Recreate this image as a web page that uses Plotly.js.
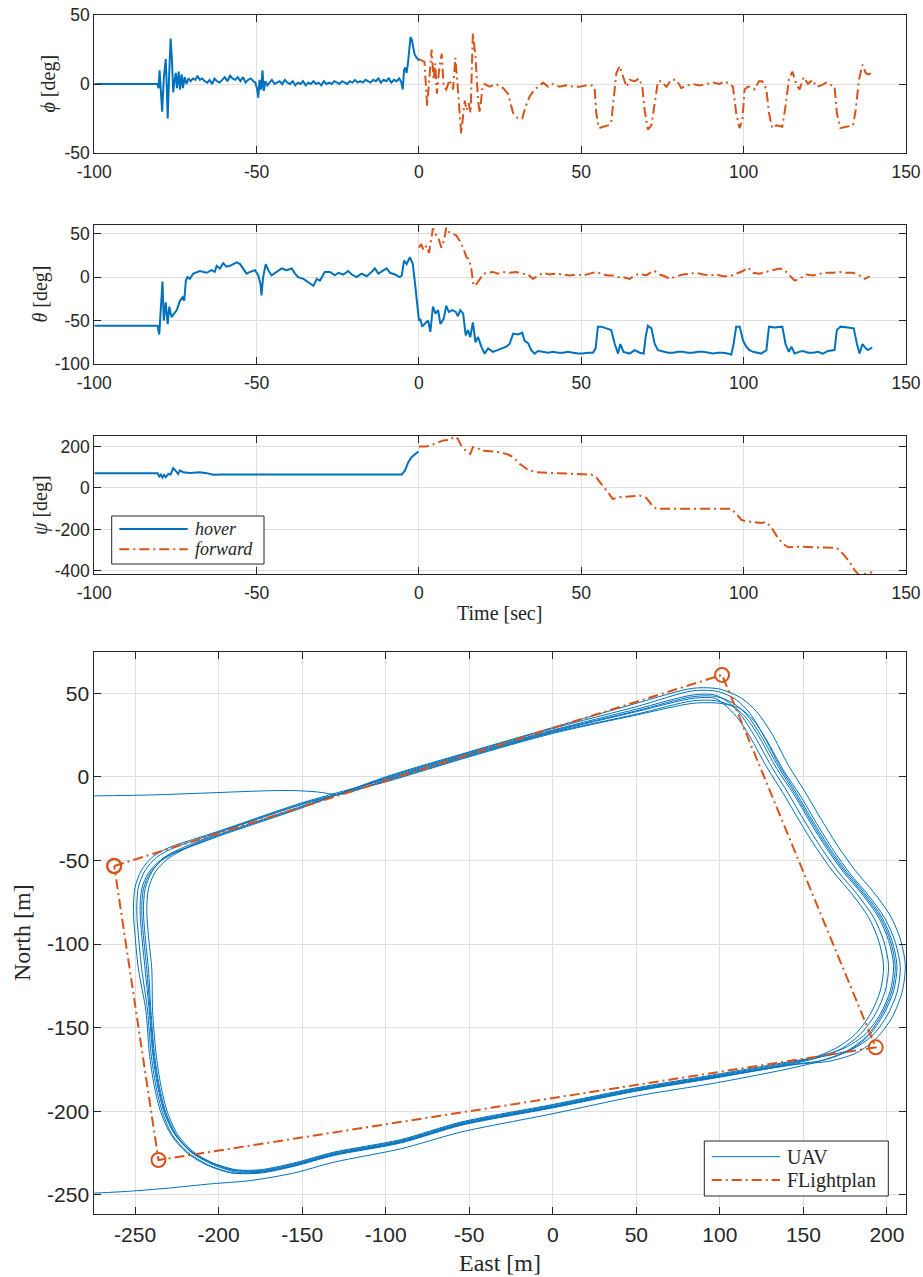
<!DOCTYPE html>
<html><head><meta charset="utf-8">
<script src="https://cdn.plot.ly/plotly-3.0.1.min.js"></script>
<style>html,body{margin:0;padding:0;background:#fff}#chart{width:923px;height:1277px}</style>
</head><body><div id="chart"></div>
<script>
// ---------- DATA (time [s], value [deg]) ----------
const phiHover = [[-100,0],[-80.6,0],[-80.2,-3],[-79.9,10],[-79.5,-5],[-79.1,-20],[-78.6,4],[-78.0,18],[-77.7,0],[-77.4,-25],[-77.0,3],[-76.5,33],[-76.1,18],[-75.7,-6],[-75.3,2],[-74.9,8],[-74.5,-3],[-74.0,9],[-73.6,-4],[-73.1,7],[-72.7,-3],[-72.2,5],[-71.6,0],[-71.0,4],[-70.3,2],[-69.6,4],[-68.9,3],[-68.2,6],[-67.5,3],[-66.8,4],[-66.0,2],[-65.2,1],[-64.5,3],[-63.7,0],[-63.0,4],[-62.2,2],[-61.4,1],[-60.6,3],[-59.8,5],[-59.0,2],[-58.2,6],[-57.4,4],[-56.6,3],[-55.8,5],[-55.0,2],[-54.2,5],[-53.4,1],[-52.6,3],[-51.8,4],[-51.0,2],[-50.4,1],[-49.9,-3],[-49.5,-10],[-49.1,3],[-48.6,-4],[-48.2,10],[-47.8,-5],[-47.3,2],[-46.7,-1],[-46.0,1],[-45.3,3],[-44.5,0],[-43.7,1],[-42.9,2],[-42.1,0],[-41.3,3],[-40.5,1],[-39.7,0],[-38.9,2],[-38.1,-1],[-37.3,1],[-36.5,0],[-35.7,2],[-34.9,-1],[-34.1,1],[-33.3,0],[-32.5,2],[-31.7,0],[-30.9,1],[-30.1,-1],[-29.3,2],[-28.5,0],[-27.7,1],[-26.9,0],[-26.1,2],[-25.3,1],[-24.5,0],[-23.7,2],[-22.9,1],[-22.1,0],[-21.3,2],[-20.5,1],[-19.7,3],[-18.9,1],[-18.1,2],[-17.3,1],[-16.5,3],[-15.7,2],[-14.9,1],[-14.1,3],[-13.3,2],[-12.5,4],[-11.7,1],[-10.9,3],[-10.1,2],[-9.3,4],[-8.5,1],[-7.7,3],[-6.9,2],[-6.1,4],[-5.4,1],[-5.0,-4],[-4.6,10],[-4.2,12],[-3.8,8],[-3.4,15],[-3.0,28],[-2.6,34],[-2.2,32],[-1.8,26],[-1.4,22],[-1.0,20],[-0.6,19],[-0.2,18],[0,17]];
const phiForward = [[0,18],[1.7,16],[2.5,-16],[2.9,-4],[3.9,25],[4.5,3],[5.0,15],[5.5,-7],[6.2,10],[7.0,22],[7.6,-2],[8.4,-4],[9.4,3],[10.5,-4],[11.2,19],[12.0,-4],[13.0,-36],[14.1,-12],[14.6,-19],[15.3,-14],[15.9,-21],[16.6,37],[17.4,20],[18.2,-12],[18.7,-21],[19.5,-4],[20.2,0],[21.8,-2],[23.8,0],[25.9,-3],[27.4,-7],[29.0,-21],[30.5,-25],[31.8,-25],[32.9,-16],[34.1,-9],[35.6,-4],[36.7,-2],[38.2,1],[39.8,-2],[41.3,0],[43.3,-2],[45.4,-1],[47.4,-2],[49.5,-2],[51.5,-1],[53.4,-1],[54.1,-3],[54.6,-21],[55.4,-32],[56.7,-31],[58.2,-30],[59.2,-28],[59.9,-12],[60.8,8],[61.8,13],[62.8,5],[63.9,-2],[64.9,3],[66.4,2],[67.8,4],[68.8,-2],[69.5,-19],[70.5,-33],[71.6,-30],[72.6,-14],[73.6,2],[74.6,2],[76.2,-2],[77.7,3],[79.3,3],[80.8,-3],[82.3,-1],[84.4,0],[86.4,-1],[88.5,0],[90.6,1],[92.6,0],[94.1,2],[95.7,0],[96.7,-2],[97.7,-21],[98.7,-32],[99.6,-26],[100.3,-4],[101.3,-2],[102.4,-2],[103.4,-4],[104.7,2],[105.7,2],[107.0,-4],[107.8,-21],[108.8,-32],[110.1,-30],[111.9,-31],[112.9,-16],[113.9,3],[115.0,9],[116.2,0],[117.2,-4],[118.5,5],[119.8,0],[121.2,3],[122.4,-2],[123.9,-1],[125.5,1],[127.0,-1],[128.0,-2],[128.7,-21],[129.8,-32],[131.6,-31],[133.7,-30],[134.5,-19],[135.5,3],[136.6,14],[137.6,8],[138.3,7],[139.6,8]];
const thetaHover = [[-100,-56],[-80.5,-56],[-80.0,-66],[-79.5,-40],[-79.0,-5],[-78.6,-50],[-78.0,-29],[-77.4,-54],[-76.9,-34],[-76.2,-46],[-75.5,-42],[-74.6,-38],[-73.6,-27],[-72.8,-23],[-72.3,-27],[-71.8,-4],[-71.3,0],[-70.6,-2],[-69.5,4],[-67.5,7],[-65.4,5],[-63.9,8],[-62.9,6],[-62.3,13],[-61.3,10],[-60.3,16],[-59.3,12],[-58.2,13],[-57.2,15],[-56.2,17],[-55.1,15],[-54.1,10],[-53.1,4],[-52.0,6],[-50.5,8],[-49.5,2],[-48.8,-8],[-48.5,-21],[-48.0,0],[-47.2,15],[-46.4,8],[-45.4,2],[-43.8,6],[-42.3,10],[-40.8,8],[-39.2,10],[-38.2,4],[-37.2,0],[-35.6,-2],[-34.1,-6],[-32.5,-10],[-31.5,-2],[-30.5,-4],[-29.0,6],[-27.4,6],[-25.9,2],[-24.8,5],[-23.3,3],[-21.8,7],[-20.7,3],[-19.2,0],[-17.7,4],[-16.1,1],[-14.6,6],[-13.6,10],[-12.5,4],[-11.0,8],[-10.0,10],[-8.9,5],[-7.4,3],[-5.9,0],[-5.3,2],[-4.6,19],[-3.8,15],[-2.8,23],[-1.9,15],[-1.2,-8],[-0.5,-34],[0,-50],[0.4,-48],[1.0,-57],[1.7,-54],[2.8,-50],[3.5,-63],[4.3,-34],[5.1,-42],[5.9,-38],[6.6,-54],[7.6,-48],[8.4,-33],[9.2,-40],[10.3,-38],[11.3,-40],[12.0,-45],[12.7,-38],[13.6,-42],[14.4,-67],[15.1,-61],[15.8,-69],[16.6,-52],[17.4,-75],[18.2,-69],[19.2,-80],[20.2,-88],[21.3,-82],[22.8,-86],[24.3,-84],[25.4,-82],[26.9,-80],[27.9,-77],[29.0,-65],[30.5,-66],[31.8,-64],[32.5,-73],[33.6,-76],[34.6,-84],[35.6,-88],[36.7,-85],[38.2,-86],[39.8,-87],[41.3,-86],[42.8,-87],[44.4,-87],[45.9,-86],[47.4,-87],[49.0,-88],[50.5,-88],[52.0,-87],[53.6,-87],[54.4,-82],[55.1,-57],[56.2,-57],[57.7,-59],[59.2,-61],[60.3,-77],[61.3,-88],[62.0,-77],[63.0,-86],[64.9,-88],[66.4,-84],[68.0,-87],[69.2,-88],[69.8,-69],[70.5,-56],[71.6,-59],[72.6,-77],[73.6,-84],[75.2,-86],[76.7,-87],[78.2,-87],[79.8,-86],[81.3,-86],[82.8,-87],[84.4,-87],[85.9,-86],[87.5,-86],[89.0,-87],[90.6,-88],[92.1,-87],[93.6,-87],[95.0,-88],[96.2,-89],[96.9,-77],[97.7,-57],[98.8,-57],[99.8,-73],[100.8,-80],[101.8,-84],[102.9,-86],[104.2,-87],[105.4,-88],[107.0,-84],[107.8,-57],[109.5,-58],[111.9,-57],[112.9,-77],[113.9,-86],[114.7,-80],[115.7,-88],[117.0,-86],[118.3,-85],[119.8,-87],[121.4,-87],[122.9,-86],[124.4,-88],[126.0,-85],[128.0,-84],[128.7,-61],[129.8,-57],[132.1,-58],[133.9,-59],[134.9,-77],[135.7,-88],[136.6,-77],[137.6,-82],[138.3,-84],[139.6,-81]];
const thetaForward = [[0,34],[0.7,38],[1.4,31],[2.3,36],[3.1,28],[3.8,44],[4.3,56],[4.9,50],[5.9,46],[6.9,34],[7.7,42],[8.4,57],[9.2,52],[10.3,50],[11.5,48],[12.5,42],[13.6,34],[14.6,23],[15.4,21],[16.1,10],[16.8,-10],[17.7,-8],[18.7,-2],[19.9,4],[21.3,5],[22.8,6],[24.3,4],[25.9,6],[27.9,5],[30.0,6],[32.0,4],[33.6,3],[35.1,-2],[36.7,2],[38.2,5],[40.2,3],[42.3,4],[44.4,3],[46.4,2],[48.5,3],[50.5,2],[52.6,4],[54.6,6],[56.7,3],[58.2,2],[59.8,2],[61.3,0],[62.8,0],[64.9,-2],[66.4,2],[68.0,4],[70.0,2],[71.6,6],[72.6,7],[74.1,3],[75.7,1],[77.2,-2],[79.3,1],[81.3,3],[83.4,4],[85.4,5],[87.5,3],[89.5,2],[91.6,3],[93.6,1],[95.7,1],[97.7,4],[99.8,7],[101.3,11],[102.9,5],[104.9,4],[107.0,6],[109.0,8],[111.1,10],[112.6,8],[114.2,2],[115.7,-4],[117.2,-2],[119.3,3],[121.4,2],[123.4,4],[125.5,5],[127.5,5],[129.6,6],[131.6,5],[133.7,5],[135.7,2],[137.3,-2],[138.8,1]];
const psiHover = [[-100,71],[-80.5,71],[-80.0,55],[-79.5,64],[-79.0,50],[-78.5,62],[-78.0,52],[-77.2,67],[-76.5,64],[-75.7,95],[-74.8,80],[-74.2,67],[-73.6,84],[-72.6,75],[-70.5,72],[-67.5,75],[-65.4,71],[-63.3,63],[-60,64],[-57.2,64],[-52,63],[-46.9,64],[-42,63],[-36.7,64],[-31,63],[-26.4,64],[-21,63],[-16.1,64],[-10,63],[-5.3,64],[-4.3,84],[-3.3,124],[-2.3,148],[-1.2,164],[-0.2,175]];
const psiForward = [[0,199],[2.3,199],[4.3,209],[6.4,220],[7.4,228],[9.4,231],[11.0,247],[12.0,236],[13.0,204],[14.6,177],[15.8,164],[16.6,196],[17.7,196],[19.2,180],[21.8,177],[24.8,172],[27.4,161],[29.0,148],[31.0,116],[33.6,87],[36.1,75],[40.2,72],[45.4,67],[49.5,64],[53.1,64],[54.6,51],[56.2,19],[57.7,-13],[59.7,-53],[61.8,-45],[64.9,-42],[68.0,-37],[70.0,-48],[71.6,-80],[73.1,-101],[76.2,-101],[81.3,-98],[86.4,-101],[91.6,-101],[96.2,-101],[97.7,-125],[99.3,-154],[100.8,-161],[103.4,-165],[105.4,-169],[107.0,-165],[108.5,-190],[110.1,-230],[112.1,-270],[113.7,-286],[117.2,-283],[121.4,-286],[125.5,-286],[128.6,-289],[130.6,-318],[132.7,-358],[134.2,-398],[135.5,-419],[137.3,-414],[139.6,-406]];

// ---------- DATA (East [m], North [m]) ----------
const uavEntry = [[-285,-11.5],[-240,-10.8],[-201,-9.4],[-170,-8.3],[-155,-8.2],[-141,-9],[-127,-10.5]];
const lap1 = [[-100,-2],[-50,13],[0,27],[50,39],[84,47],[97,47],[103,43],[110,36],[118,24],[128,6],[138,-10],[148,-27],[158,-43],[168,-57],[179,-70],[189,-84],[195,-98],[198,-113],[196,-128],[190,-142],[181,-154],[170,-162],[156,-168],[144,-171],[98,-179],[50,-187],[0,-197],[-55,-207.5],[-91,-218],[-131,-225.5],[-155,-232],[-175,-236],[-188,-235.5],[-203.5,-231],[-215.5,-224],[-224.5,-214],[-230.5,-201],[-234.5,-185],[-237.5,-165],[-239.5,-140],[-240,-115],[-242,-95],[-243,-80],[-242,-67],[-238,-57],[-231,-49.5],[-223,-44.5],[-212,-39],[-200,-34.5],[-150,-17.5]];
const lap2 = [[-100,-1],[-50,14],[0,28],[50,40.5],[84,49],[97,49],[106,44],[113,36.5],[121,24],[131,6],[141,-10],[151,-27],[161,-43],[171,-57],[182,-70],[192,-84],[198,-98],[201,-113],[199,-128],[193,-142],[184,-154],[172,-163],[157,-168.5],[144,-171.5],[98,-179.5],[50,-187.5],[0,-197.5],[-55,-208],[-91,-218.5],[-131,-226],[-155,-232.5],[-175,-236.5],[-189,-236.5],[-204.5,-231.5],[-216.5,-224.5],[-225.5,-214],[-231.5,-201],[-235.5,-185],[-238.5,-165],[-240.5,-140],[-242,-115],[-244,-95],[-245,-80],[-244,-67],[-240,-57],[-233,-48.5],[-224,-43.5],[-211,-38],[-200,-33.5],[-150,-16.5]];
const lap3 = [[-100,-2.5],[-50,12.5],[0,26.5],[50,37.5],[84,45.5],[98,45.5],[108,42],[116,35],[124,23],[134,5],[144,-10],[154,-27],[164,-43],[174,-57],[185,-70],[195,-84],[201,-98],[204,-113],[202,-128],[196,-142],[187,-154],[175,-162],[160,-167],[144,-170.5],[98,-178.5],[50,-186.5],[0,-196.5],[-55,-207],[-91,-217.5],[-131,-225],[-155,-231.5],[-175,-235.5],[-191,-235.5],[-205.5,-230.5],[-217.5,-223.5],[-226.5,-213.5],[-232.5,-201],[-236.5,-185],[-239.5,-165],[-241.5,-140],[-244,-115],[-246,-95],[-247,-80],[-246,-67],[-242,-57.5],[-235,-50],[-226,-45],[-213,-40],[-200,-35],[-150,-18]];
const lap4 = [[-100,-0.5],[-50,14.5],[0,29],[50,42],[84,51.5],[99,51],[110,46],[118,38],[126,25],[136,6],[146,-10],[156,-27],[166,-43],[176,-57],[187,-70],[197,-84],[203,-98],[206,-113],[204,-128],[198,-142],[189,-155],[177,-164],[162,-169.5],[144,-172],[98,-180],[50,-188],[0,-198],[-55,-208.5],[-91,-219],[-131,-226.5],[-155,-233],[-175,-237],[-191,-237],[-206.5,-232],[-218.5,-224.5],[-227.5,-214.5],[-233.5,-201],[-237.5,-185],[-240.5,-165],[-242.5,-140],[-246,-115],[-248,-95],[-249,-80],[-248,-66],[-244,-56],[-237,-48],[-227,-42.5],[-213,-37.5],[-200,-33],[-150,-16]];
const lap5 = [[-100,-3],[-50,12],[0,26],[50,37],[84,44],[100,44],[112,41],[120,34],[128,22],[138,4],[148,-11],[158,-28],[168,-44],[178,-58],[189,-71],[199,-85],[205,-99],[208,-114],[206,-129],[200,-143],[191,-155],[179,-163],[163,-167],[144,-170],[98,-178],[50,-186],[0,-196],[-55,-206.5],[-91,-217],[-131,-224.5],[-155,-231],[-175,-235],[-190,-235],[-205,-230.5],[-217,-223.5],[-226,-213.5],[-232,-201],[-236,-185],[-239,-165],[-241,-140],[-243,-115],[-245,-95],[-246,-80],[-245,-67],[-241,-57.5],[-234,-50],[-225,-45],[-212,-40],[-200,-35.5],[-150,-18.5]];
const lap6 = [[-100,0],[-50,15],[0,29.5],[50,44],[84,53],[100,52.5],[113,47],[122,39],[131,26],[141,7],[151,-9],[161,-26],[171,-42],[181,-56],[192,-69],[202,-83],[208,-97],[211,-113],[209,-129],[203,-144],[194,-156],[182,-165],[166,-170],[146,-172],[98,-179.5],[50,-187.5],[0,-197.5],[-55,-208],[-91,-218.5],[-131,-226],[-155,-232.5],[-175,-236.5],[-192,-237],[-207.5,-232],[-219.5,-224.5],[-228.5,-214],[-234.5,-201],[-238.5,-185],[-241.5,-165],[-243.5,-140],[-248,-115],[-250,-95],[-251,-80],[-250,-66],[-246,-55.5],[-239,-47.5],[-229,-42],[-214,-37],[-200,-32.5],[-150,-15.5]];
const lapFinal = [[-100,-1.5],[-50,13.5],[0,27.5],[50,39.5],[84,48],[98,48],[109,43.5],[117,36],[125,24],[135,6],[145,-10],[155,-27],[165,-43],[175,-57],[186,-70],[196,-84],[202,-98],[205,-113],[203,-128],[197,-142],[188,-155],[176,-164],[160,-170],[144,-174],[98,-183],[50,-191],[0,-201.5],[-55,-212.5],[-91,-222.5],[-131,-230.5],[-155,-237],[-181,-241.5],[-205,-243.5],[-230,-246],[-255,-248],[-285,-249.5]];
const planE = [-262.5, 101.3, 193.3, -236, -262.5];
const planN = [-53.3, 61, -161.8, -229.2, -53.3];

const tickTime = [-100,-50,0,50,100,150];
const tickPhi = [-50,0,50];
const tickTheta = [-100,-50,0,50];
const tickPsi = [-400,-200,0,200];
const tickEast = [-250,-200,-150,-100,-50,0,50,100,150,200];
const tickNorth = [-250,-200,-150,-100,-50,0,50];

// ---------- PLOT ----------
const W = 923, H = 1277;
const px = x => x / W;
const py = y => 1 - y / H;
const BLUE = '#0072BD', ORANGE = '#D95319', INK = '#262626';
const DASHDOT = '10px,4px,2px,4px';
const xs = a => a.map(p => p[0]);
const ys = a => a.map(p => p[1]);

const uav = [].concat(uavEntry, lap1, lap2, lap3, lap4, lap5, lap6, lapFinal);

const traces = [
  {x: xs(phiHover), y: ys(phiHover), xaxis: 'x', yaxis: 'y', mode: 'lines', line: {color: BLUE, width: 2}},
  {x: xs(phiForward), y: ys(phiForward), xaxis: 'x', yaxis: 'y', mode: 'lines', line: {color: ORANGE, width: 2, dash: DASHDOT}},
  {x: xs(thetaForward), y: ys(thetaForward), xaxis: 'x2', yaxis: 'y2', mode: 'lines', line: {color: ORANGE, width: 2, dash: DASHDOT}},
  {x: xs(thetaHover), y: ys(thetaHover), xaxis: 'x2', yaxis: 'y2', mode: 'lines', line: {color: BLUE, width: 2}},
  {x: xs(psiHover), y: ys(psiHover), xaxis: 'x3', yaxis: 'y3', mode: 'lines', line: {color: BLUE, width: 2}},
  {x: xs(psiForward), y: ys(psiForward), xaxis: 'x3', yaxis: 'y3', mode: 'lines', line: {color: ORANGE, width: 2, dash: DASHDOT}},
  {x: xs(uav), y: ys(uav), xaxis: 'x4', yaxis: 'y4', mode: 'lines', line: {color: BLUE, width: 1, shape: 'spline', smoothing: 0.8}},
  {x: planE, y: planN, xaxis: 'x4', yaxis: 'y4', mode: 'lines+markers', line: {color: ORANGE, width: 2, dash: DASHDOT},
   marker: {symbol: 'circle-open', size: 14, color: ORANGE, line: {width: 2, color: ORANGE}}}
];

function ax(vals, extra, fs) {
  return Object.assign({
    showline: true, linecolor: INK, linewidth: 1, mirror: 'ticks',
    ticks: 'inside', ticklen: 7, tickwidth: 1, tickcolor: INK,
    showgrid: true, gridcolor: '#dfdfdf', gridwidth: 1, zeroline: false,
    tickfont: {family: 'Liberation Sans, Arial, sans-serif', size: fs, color: INK},
    fixedrange: true, automargin: false, tickmode: 'array',
    tickvals: vals, ticktext: vals.map(String)
  }, extra);
}
const xd = [px(94.3), px(906)];
const layout = {
  width: W, height: H, margin: {l: 0, r: 0, t: 0, b: 0},
  paper_bgcolor: '#fff', plot_bgcolor: '#fff', showlegend: false,
  xaxis:  ax(tickTime, {domain: xd, range: [-100, 150], anchor: 'y', ticklabelstandoff: 3}, 17.5),
  yaxis:  ax(tickPhi, {domain: [py(153), py(15)], range: [-50, 50], anchor: 'x'}, 17.5),
  xaxis2: ax(tickTime, {domain: xd, range: [-100, 150], anchor: 'y2', ticklabelstandoff: 3}, 17.5),
  yaxis2: ax(tickTheta, {domain: [py(364), py(225)], range: [-100, 60], anchor: 'x2'}, 17.5),
  xaxis3: ax(tickTime, {domain: xd, range: [-100, 150], anchor: 'y3', ticklabelstandoff: 3}, 17.5),
  yaxis3: ax(tickPsi, {domain: [py(574), py(436)], range: [-415, 250], anchor: 'x3'}, 17.5),
  xaxis4: ax(tickEast, {domain: xd, range: [-274.4, 211.4], anchor: 'y4', ticklabelstandoff: 2}, 21),
  yaxis4: ax(tickNorth, {domain: [py(1214), py(652)], range: [-261.5, 74.7], anchor: 'x4'}, 21),
  shapes: [
    {type: 'rect', xref: 'paper', yref: 'paper', x0: px(111.7), x1: px(264), y0: py(564), y1: py(516), line: {color: INK, width: 1}, fillcolor: '#fff'},
    {type: 'line', xref: 'paper', yref: 'paper', x0: px(119.3), x1: px(187.7), y0: py(529), y1: py(529), line: {color: BLUE, width: 2}},
    {type: 'line', xref: 'paper', yref: 'paper', x0: px(119.3), x1: px(187.7), y0: py(549.3), y1: py(549.3), line: {color: ORANGE, width: 2, dash: DASHDOT}},
    {type: 'rect', xref: 'paper', yref: 'paper', x0: px(704.3), x1: px(888.3), y0: py(1196), y1: py(1141), line: {color: INK, width: 1}, fillcolor: '#fff'},
    {type: 'line', xref: 'paper', yref: 'paper', x0: px(711.7), x1: px(780), y0: py(1156.7), y1: py(1156.7), line: {color: BLUE, width: 1}},
    {type: 'line', xref: 'paper', yref: 'paper', x0: px(711.7), x1: px(780), y0: py(1180), y1: py(1180), line: {color: ORANGE, width: 2, dash: DASHDOT}}
  ],
  annotations: []
};
const SERIF = 'Liberation Serif, Times New Roman, serif';
function note(text, x, y, size, angle, anchor) {
  layout.annotations.push({text: text, xref: 'paper', yref: 'paper', x: px(x), y: py(y),
    xanchor: anchor || 'center', yanchor: 'middle', showarrow: false, textangle: angle || 0,
    font: {family: SERIF, size: size, color: INK}});
}
note('<i>ϕ</i> [deg]', 48, 83.5, 20, -90);
note('<i>θ</i> [deg]', 40, 294.5, 20, -90);
note('<i>ψ</i> [deg]', 40, 505, 20, -90);
note('Time [sec]', 499, 613, 20);
note('North [m]', 22, 933, 24, -90);
note('East [m]', 500, 1263, 24);
note('<i>hover</i>', 193, 529, 18, 0, 'left');
note('<i>forward</i>', 193, 549.3, 18, 0, 'left');
note('UAV', 785, 1156.7, 20, 0, 'left');
note('FLightplan', 785, 1180, 20, 0, 'left');

Plotly.newPlot('chart', traces, layout, {staticPlot: true, displayModeBar: false});
</script>
</body></html>
